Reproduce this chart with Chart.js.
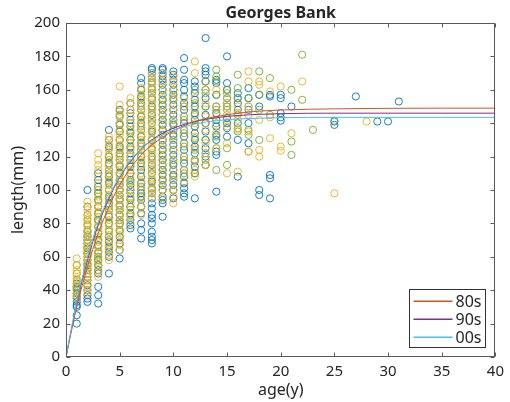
<!DOCTYPE html>
<html><head><meta charset="utf-8">
<script src="https://cdn.jsdelivr.net/npm/chart.js@4/dist/chart.umd.min.js"></script>
<style>html,body{margin:0;padding:0;background:#fff}</style>
</head><body>
<canvas id="c" width="510" height="402"></canvas>
<script>
// ---------- data ----------
const chartTitle = 'Georges Bank';
const xTitle = 'age(y)';
const yTitle = 'length(mm)';
const xTicks = [0, 5, 10, 15, 20, 25, 30, 35, 40];
const yTicks = [0, 20, 40, 60, 80, 100, 120, 140, 160, 180, 200];
const legendLabels = ['80s', '90s', '00s'];

// fitted growth curves
const curveAges = [0, 1, 2, 3, 4, 5, 6, 7, 8, 9, 10, 12, 14, 16, 18, 20, 25, 30, 35, 40];
const curve80s = [0, 30, 54, 74, 90, 103, 113, 121, 127, 131.5, 135.5, 141, 144, 146, 147.2, 147.9, 148.6, 148.9, 149, 149];
const curve90s = [0, 32, 58, 79, 95, 107.5, 117, 124.5, 130, 134, 137, 141, 143.3, 144.6, 145.3, 145.7, 146, 146, 146, 146];
const curve00s = [0, 33, 59.5, 80.5, 96, 108, 117.5, 124.5, 129.5, 133, 135.8, 139.5, 141.5, 142.5, 143, 143.3, 143.5, 143.5, 143.5, 143.5];

// observations (blue group)
const blueAges = [1,2,3,4,5,6,7,8,9,10,11,12,13,14,15,16,17,18,19,20,21,25,27,29,30,31];
const blueLengths = [
  [20,25,30,31,33,35,36,38,40,41,42,44],
  [33,35,37,40,43,46,48,52,55,58,62,65,68,70,72,75,90,100],
  [32,37,42,50,52,55,58,60,63,67,70,74,78,82,86,90,94,98,102,106,110],
  [50,60,63,66,69,72,76,80,84,88,92,96,100,104,108,112,116,120,126,130,136],
  [59,64,68,72,76,80,82,85,88,91,94,97,100,103,106,110,114,118,122,126,130,135,139,144,148],
  [77,79,82,86,90,94,98,100,103,106,110,114,118,122,126,130,134,138,142,146,152],
  [71,76,80,86,90,94,96,98,100,104,108,112,116,120,124,128,132,136,140,144,148,152,156,160,164,167],
  [68,70,72,75,80,83,85,89,92,95,98,101,105,110,115,120,125,130,135,140,145,150,155,158,161,164,167,170,172,173],
  [84,92,94,96,100,103,106,109,112,115,118,121,124,127,130,133,136,139,142,145,148,151,154,157,160,163,166,168,170,172,173],
  [95,100,103,106,109,112,115,118,121,124,127,130,133,136,139,142,145,148,151,154,157,160,163,166,169,171],
  [96,98,101,104,108,112,116,120,124,128,132,136,140,144,148,152,156,160,164,166,172,179],
  [95,110,114,118,122,126,130,134,138,142,146,150,154,158,162,165],
  [115,120,125,130,135,140,145,150,155,160,165,169,171,173,191],
  [99,121,123,130,133,138,142,146,150,157,164,166],
  [132,137,140,143,150,155,160,164,180],
  [108,130,140,148,152,155,158],
  [128,140,148,155,161],
  [97,100,150,157],
  [95,107,109,156,157],
  [141.5,143.5,146,155,157],
  [150],
  [139,141],
  [156],
  [141],
  [141],
  [153]
];

// observations (yellow group)
const yellowAges = [1,2,3,4,5,6,7,8,9,10,11,12,13,14,15,16,17,18,19,20,21,22,25,28];
const yellowLengths = [
  [35,37,40,43,45,47,50,52,55,59],
  [38,40,42,44,46,48,50,52,54,56,58,60,62,64,66,68,70,72,75,78,80,83,85,88,90,93],
  [48,51,54,57,60,63,66,69,72,75,78,81,84,87,90,93,96,100,104,108,112,115,118,122],
  [58,61,64,67,70,73,76,79,82,85,88,91,94,97,100,103,106,109,112,115,118,121,124,127,130,132],
  [64,67,70,73,76,79,82,85,88,91,94,97,100,103,106,109,112,115,118,121,124,127,130,133,136,140,144,147,151,162],
  [80,84,88,92,96,100,104,108,112,116,120,124,128,132,136,140,144,148,152,155],
  [85,90,95,100,105,110,115,118,121,124,127,130,133,136,139,142,145,148,151,154,157,161],
  [95,98,101,104,107,110,113,116,119,122,125,128,131,134,137,140,143,146,149,152,155,158,161,164,167,170],
  [95,100,105,110,115,120,125,130,135,140,145,150,155,160,165,170],
  [92,96,100,106,112,118,124,130,136,142,148,154,160,165,168],
  [105,112,120,128,136,144,150,155],
  [108,112,118,125,132,140,148,155,170,177],
  [115,122,128,136,144,152,160],
  [125,135,145,150,160],
  [110,128,138,145,150,155],
  [111,136,142,146,150],
  [123,135,145,150,165,171],
  [120,124,142,163,165],
  [131,143.5,159],
  [123.5,126,162],
  [134],
  [165],
  [98],
  [141]
];

// observations (green group)
const greenAges = [1,2,3,4,5,6,7,8,9,10,11,12,13,14,15,16,17,18,19,21,22,23,25];
const greenLengths = [
  [38,42,46,50,55],
  [50,53,56,60,63,66,70,73,76,79,82,85],
  [55,58,62,66,70,74,78,82,86,90,94,98,100],
  [65,70,75,80,85,90,95,100,105,110,115,120,125],
  [75,80,85,90,95,100,105,110,115,120,125,130,135,140,145],
  [85,90,95,100,105,110,115,120,125,130,135,140,148],
  [90,96,102,108,114,120,126,132,138,144,150,155,160],
  [100,106,112,118,124,130,136,142,148,154,160,165],
  [100,106,112,118,124,130,136,142,148,154,160,165],
  [100,108,116,124,132,140,148,155,160],
  [110,118,126,134,142,150],
  [110,117,124,131,138,145,152,160],
  [115,118,122,130,140,150,158,165],
  [112,125,132,140,148,157,165,168,172],
  [115,125,140,148,152,158,160],
  [135,137,145,155,161,169],
  [123,133,136,150,155],
  [130,148,157,171],
  [145,167],
  [121,129,160],
  [154,181],
  [136],
  [141.5]
];

// ---------- build ----------
function toPoints(ages, lengths) {
  const pts = [];
  ages.forEach((a, i) => lengths[i].forEach(v => pts.push({x: a, y: v})));
  return pts;
}
function toLine(ages, vals) { return ages.map((a, i) => ({x: a, y: vals[i]})); }

const COL = {
  blue: '#0072BD', yellow: '#EDB120', green: '#77AC30',
  c80: '#D95319', c90: '#7E2F8E', c00: '#4DBEEE', axis: '#262626', frame: '#5a5a5a'
};
const FONT = '"Noto Sans", "DejaVu Sans", sans-serif';

function scatterSet(data, color, order) {
  return { type: 'scatter', data, borderColor: color, backgroundColor: 'rgba(0,0,0,0)',
    pointRadius: 3.6, pointBorderWidth: 0.9, pointHoverRadius: 3.6, showLine: false, order };
}
function lineSet(data, color, order) {
  return { type: 'line', data, borderColor: color, borderWidth: 1, pointRadius: 0,
    cubicInterpolationMode: 'monotone', fill: false, order };
}

const framePlugin = {
  id: 'frame',
  afterDraw(chart) {
    const ctx = chart.ctx;
    const a = chart.chartArea;
    const xs = chart.scales.x, ys = chart.scales.y;
    ctx.save();
    ctx.strokeStyle = COL.frame;
    ctx.lineWidth = 1;
    const L = Math.round(a.left) + 0.5, R = Math.round(a.right) - 0.5;
    const T = Math.round(a.top) + 0.5, B = Math.round(a.bottom) - 0.5;
    ctx.strokeRect(L, T, R - L, B - T);
    const tl = 4;
    ctx.beginPath();
    xTicks.forEach(v => {
      const px = Math.round(xs.getPixelForValue(v)) + 0.5;
      ctx.moveTo(px, B); ctx.lineTo(px, B - tl);
      ctx.moveTo(px, T); ctx.lineTo(px, T + tl);
    });
    yTicks.forEach(v => {
      const py = Math.round(ys.getPixelForValue(v)) + 0.5;
      ctx.moveTo(L, py); ctx.lineTo(L + tl, py);
      ctx.moveTo(R, py); ctx.lineTo(R - tl, py);
    });
    ctx.stroke();

    // titles
    ctx.fillStyle = COL.axis;
    ctx.textAlign = 'center';
    ctx.textBaseline = 'middle';
    const cx = (a.left + a.right) / 2;
    ctx.font = 'bold 16px ' + FONT;
    ctx.fillText(chartTitle, cx, 13);
    ctx.font = '16px ' + FONT;
    ctx.fillText(xTitle, cx, 390);
    ctx.save();
    ctx.translate(18, (a.top + a.bottom) / 2);
    ctx.rotate(-Math.PI / 2);
    ctx.fillText(yTitle, 0, 0);
    ctx.restore();

    // legend box
    const bw = 76, bh = 58;
    const bx = Math.round(a.right - 10 - bw) + 0.5, by = Math.round(a.bottom - 10 - bh) + 0.5;
    ctx.fillStyle = '#ffffff';
    ctx.fillRect(bx, by, bw, bh);
    ctx.strokeStyle = '#333333';
    ctx.lineWidth = 1;
    ctx.strokeRect(bx, by, bw, bh);
    const cols = [COL.c80, COL.c90, COL.c00];
    ctx.font = '16px ' + FONT;
    ctx.textAlign = 'left';
    legendLabels.forEach((lab, i) => {
      const yy = Math.round(by + 11 + i * 18);
      ctx.fillStyle = cols[i];
      ctx.fillRect(bx + 4, yy - 0.5, 39, 1.5);
      ctx.fillStyle = COL.axis;
      ctx.fillText(lab, bx + 46, yy + 1);
    });
    ctx.restore();
  }
};

new Chart(document.getElementById('c'), {
  data: {
    datasets: [
      lineSet(toLine(curveAges, curve80s), COL.c80, 1),
      lineSet(toLine(curveAges, curve90s), COL.c90, 2),
      lineSet(toLine(curveAges, curve00s), COL.c00, 0),
      scatterSet(toPoints(greenAges, greenLengths), COL.green, 5),
      scatterSet(toPoints(yellowAges, yellowLengths), COL.yellow, 4),
      scatterSet(toPoints(blueAges, blueLengths), COL.blue, 6)
    ]
  },
  options: {
    responsive: false,
    animation: false,
    events: [],
    layout: { padding: { top: 23, right: 10, left: 0, bottom: 0 } },
    plugins: { legend: { display: false }, tooltip: { enabled: false }, title: { display: false } },
    scales: {
      x: {
        type: 'linear', min: 0, max: 40,
        afterFit: s => { s.height = 45; },
        afterBuildTicks: s => { s.ticks = xTicks.map(v => ({value: v})); },
        grid: { display: false, drawTicks: false },
        border: { display: false },
        ticks: { color: COL.axis, font: { family: FONT, size: 15 }, padding: 6, maxRotation: 0 }
      },
      y: {
        type: 'linear', min: 0, max: 200,
        afterFit: s => { s.width = 66; },
        afterBuildTicks: s => { s.ticks = yTicks.map(v => ({value: v})); },
        grid: { display: false, drawTicks: false },
        border: { display: false },
        ticks: { color: COL.axis, font: { family: FONT, size: 15 }, padding: 6 }
      }
    }
  },
  plugins: [framePlugin]
});
</script>
</body></html>
